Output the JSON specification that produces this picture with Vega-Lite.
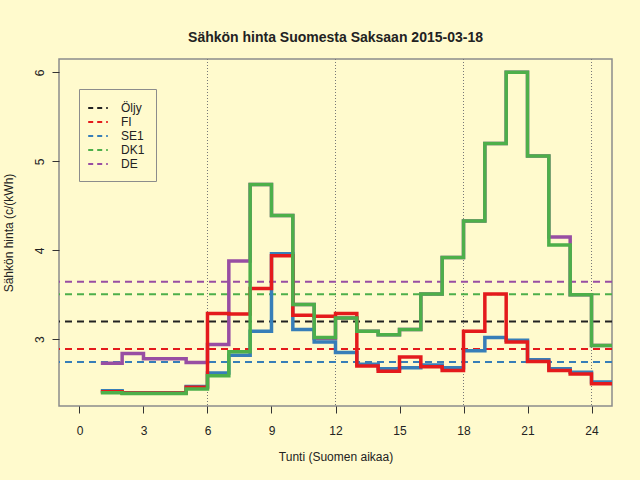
{
  "$schema": "https://vega.github.io/schema/vega-lite/v6.json",
  "width": 553,
  "height": 347,
  "autosize": {"type": "none"},
  "padding": {"left": 59, "top": 59, "right": 28, "bottom": 74},
  "background": "#FFFACD",
  "title": {"text": "Sähkön hinta Suomesta Saksaan 2015-03-18", "font": "Liberation Sans", "fontSize": 14, "fontWeight": "bold", "color": "#222222", "offset": 14},
  "config": {
    "font": "Liberation Sans",
    "view": {"stroke": "#8c8c8c", "strokeWidth": 1.5},
    "axis": {"domain": false, "grid": false, "ticks": true, "tickColor": "#333333", "tickSize": 7, "labelFontSize": 12, "labelColor": "#222222", "titleFontSize": 12, "titleFontWeight": "normal", "titleColor": "#222222", "labelFont": "Liberation Sans", "titleFont": "Liberation Sans"},
    "axisX": {"labelPadding": 12, "titlePadding": 15},
    "axisY": {"labelAngle": -90, "labelPadding": 6, "titlePadding": 18, "labelAlign": "center", "labelBaseline": "bottom"},
    "legend": {"orient": "none", "legendX": 20, "legendY": 30, "padding": 11, "strokeColor": "#8c8c8c", "fillColor": "#FFFACD", "symbolType": "M-1.4,0L1.4,0", "symbolDash": [5, 4], "symbolStrokeWidth": 1.8, "symbolSize": 196, "labelFontSize": 12, "labelOffset": 15, "rowPadding": 0, "labelColor": "#222222", "labelFont": "Liberation Sans"}
  },
  "datasets": {
    "grid": [{"h": 6}, {"h": 12}, {"h": 18}, {"h": 24}],
    "ref": [
      {"sarja": "Öljy", "hinta": 3.20},
      {"sarja": "FI", "hinta": 2.89},
      {"sarja": "SE1", "hinta": 2.745},
      {"sarja": "DK1", "hinta": 3.505},
      {"sarja": "DE", "hinta": 3.647}
    ],
    "hinta": [
      {"tunti": 1, "sarja": "DE", "hinta": 2.73}, {"tunti": 2, "sarja": "DE", "hinta": 2.84}, {"tunti": 3, "sarja": "DE", "hinta": 2.78}, {"tunti": 4, "sarja": "DE", "hinta": 2.78}, {"tunti": 5, "sarja": "DE", "hinta": 2.74}, {"tunti": 6, "sarja": "DE", "hinta": 2.94}, {"tunti": 7, "sarja": "DE", "hinta": 3.88}, {"tunti": 8, "sarja": "DE", "hinta": 4.74}, {"tunti": 9, "sarja": "DE", "hinta": 4.39}, {"tunti": 10, "sarja": "DE", "hinta": 3.39}, {"tunti": 11, "sarja": "DE", "hinta": 3.01}, {"tunti": 12, "sarja": "DE", "hinta": 3.24}, {"tunti": 13, "sarja": "DE", "hinta": 3.09}, {"tunti": 14, "sarja": "DE", "hinta": 3.05}, {"tunti": 15, "sarja": "DE", "hinta": 3.11}, {"tunti": 16, "sarja": "DE", "hinta": 3.51}, {"tunti": 17, "sarja": "DE", "hinta": 3.92}, {"tunti": 18, "sarja": "DE", "hinta": 4.33}, {"tunti": 19, "sarja": "DE", "hinta": 5.20}, {"tunti": 20, "sarja": "DE", "hinta": 6.00}, {"tunti": 21, "sarja": "DE", "hinta": 5.06}, {"tunti": 22, "sarja": "DE", "hinta": 4.15}, {"tunti": 23, "sarja": "DE", "hinta": 3.50}, {"tunti": 24, "sarja": "DE", "hinta": 2.93}, {"tunti": 25, "sarja": "DE", "hinta": 2.93},
      {"tunti": 1, "sarja": "SE1", "hinta": 2.42}, {"tunti": 2, "sarja": "SE1", "hinta": 2.40}, {"tunti": 3, "sarja": "SE1", "hinta": 2.40}, {"tunti": 4, "sarja": "SE1", "hinta": 2.40}, {"tunti": 5, "sarja": "SE1", "hinta": 2.47}, {"tunti": 6, "sarja": "SE1", "hinta": 2.62}, {"tunti": 7, "sarja": "SE1", "hinta": 2.82}, {"tunti": 8, "sarja": "SE1", "hinta": 3.09}, {"tunti": 9, "sarja": "SE1", "hinta": 3.96}, {"tunti": 10, "sarja": "SE1", "hinta": 3.11}, {"tunti": 11, "sarja": "SE1", "hinta": 2.97}, {"tunti": 12, "sarja": "SE1", "hinta": 2.85}, {"tunti": 13, "sarja": "SE1", "hinta": 2.72}, {"tunti": 14, "sarja": "SE1", "hinta": 2.67}, {"tunti": 15, "sarja": "SE1", "hinta": 2.68}, {"tunti": 16, "sarja": "SE1", "hinta": 2.71}, {"tunti": 17, "sarja": "SE1", "hinta": 2.68}, {"tunti": 18, "sarja": "SE1", "hinta": 2.87}, {"tunti": 19, "sarja": "SE1", "hinta": 3.02}, {"tunti": 20, "sarja": "SE1", "hinta": 2.99}, {"tunti": 21, "sarja": "SE1", "hinta": 2.77}, {"tunti": 22, "sarja": "SE1", "hinta": 2.67}, {"tunti": 23, "sarja": "SE1", "hinta": 2.63}, {"tunti": 24, "sarja": "SE1", "hinta": 2.52}, {"tunti": 25, "sarja": "SE1", "hinta": 2.52},
      {"tunti": 1, "sarja": "FI", "hinta": 2.41}, {"tunti": 2, "sarja": "FI", "hinta": 2.395}, {"tunti": 3, "sarja": "FI", "hinta": 2.395}, {"tunti": 4, "sarja": "FI", "hinta": 2.395}, {"tunti": 5, "sarja": "FI", "hinta": 2.46}, {"tunti": 6, "sarja": "FI", "hinta": 3.29}, {"tunti": 7, "sarja": "FI", "hinta": 3.285}, {"tunti": 8, "sarja": "FI", "hinta": 3.57}, {"tunti": 9, "sarja": "FI", "hinta": 3.94}, {"tunti": 10, "sarja": "FI", "hinta": 3.27}, {"tunti": 11, "sarja": "FI", "hinta": 3.26}, {"tunti": 12, "sarja": "FI", "hinta": 3.29}, {"tunti": 13, "sarja": "FI", "hinta": 2.70}, {"tunti": 14, "sarja": "FI", "hinta": 2.64}, {"tunti": 15, "sarja": "FI", "hinta": 2.80}, {"tunti": 16, "sarja": "FI", "hinta": 2.69}, {"tunti": 17, "sarja": "FI", "hinta": 2.65}, {"tunti": 18, "sarja": "FI", "hinta": 3.09}, {"tunti": 19, "sarja": "FI", "hinta": 3.51}, {"tunti": 20, "sarja": "FI", "hinta": 2.97}, {"tunti": 21, "sarja": "FI", "hinta": 2.75}, {"tunti": 22, "sarja": "FI", "hinta": 2.65}, {"tunti": 23, "sarja": "FI", "hinta": 2.61}, {"tunti": 24, "sarja": "FI", "hinta": 2.50}, {"tunti": 25, "sarja": "FI", "hinta": 2.50},
      {"tunti": 1, "sarja": "DK1", "hinta": 2.40}, {"tunti": 2, "sarja": "DK1", "hinta": 2.39}, {"tunti": 3, "sarja": "DK1", "hinta": 2.39}, {"tunti": 4, "sarja": "DK1", "hinta": 2.39}, {"tunti": 5, "sarja": "DK1", "hinta": 2.44}, {"tunti": 6, "sarja": "DK1", "hinta": 2.59}, {"tunti": 7, "sarja": "DK1", "hinta": 2.86}, {"tunti": 8, "sarja": "DK1", "hinta": 4.74}, {"tunti": 9, "sarja": "DK1", "hinta": 4.39}, {"tunti": 10, "sarja": "DK1", "hinta": 3.39}, {"tunti": 11, "sarja": "DK1", "hinta": 3.02}, {"tunti": 12, "sarja": "DK1", "hinta": 3.24}, {"tunti": 13, "sarja": "DK1", "hinta": 3.09}, {"tunti": 14, "sarja": "DK1", "hinta": 3.05}, {"tunti": 15, "sarja": "DK1", "hinta": 3.11}, {"tunti": 16, "sarja": "DK1", "hinta": 3.51}, {"tunti": 17, "sarja": "DK1", "hinta": 3.92}, {"tunti": 18, "sarja": "DK1", "hinta": 4.33}, {"tunti": 19, "sarja": "DK1", "hinta": 5.20}, {"tunti": 20, "sarja": "DK1", "hinta": 6.00}, {"tunti": 21, "sarja": "DK1", "hinta": 5.06}, {"tunti": 22, "sarja": "DK1", "hinta": 4.06}, {"tunti": 23, "sarja": "DK1", "hinta": 3.50}, {"tunti": 24, "sarja": "DK1", "hinta": 2.93}, {"tunti": 25, "sarja": "DK1", "hinta": 2.93}
    ]
  },
  "layer": [
    {
      "data": {"name": "grid"},
      "mark": {"type": "rule", "color": "#777777", "strokeWidth": 1, "strokeDash": [1, 2]},
      "encoding": {
        "x": {"field": "h", "type": "quantitative", "scale": {"domain": [-0.96, 24.96], "nice": false, "zero": false}, "axis": {"values": [0, 3, 6, 9, 12, 15, 18, 21, 24], "title": "Tunti (Suomen aikaa)"}}
      }
    },
    {
      "data": {"name": "ref"},
      "mark": {"type": "rule", "strokeWidth": 2, "strokeDash": [7, 5]},
      "encoding": {
        "y": {"field": "hinta", "type": "quantitative", "scale": {"domain": [2.25, 6.15], "nice": false, "zero": false}, "axis": {"values": [3, 4, 5, 6], "title": "Sähkön hinta (c/(kWh)"}},
        "color": {"field": "sarja", "type": "nominal", "scale": {"domain": ["Öljy", "FI", "SE1", "DK1", "DE"], "range": ["#222222", "#E41A1C", "#377EB8", "#4DAF4A", "#984EA3"]}, "legend": {"title": null}}
      }
    },
    {
      "data": {"name": "hinta"},
      "mark": {"type": "line", "interpolate": "step-after", "strokeWidth": 3.5, "clip": true},
      "encoding": {
        "x": {"field": "tunti", "type": "quantitative", "scale": {"domain": [-0.96, 24.96], "nice": false, "zero": false}, "axis": {"values": [0, 3, 6, 9, 12, 15, 18, 21, 24], "title": "Tunti (Suomen aikaa)"}},
        "y": {"field": "hinta", "type": "quantitative", "scale": {"domain": [2.25, 6.15], "nice": false, "zero": false}, "axis": {"values": [3, 4, 5, 6], "title": "Sähkön hinta (c/(kWh)"}},
        "color": {"field": "sarja", "type": "nominal", "scale": {"domain": ["Öljy", "FI", "SE1", "DK1", "DE"], "range": ["#222222", "#E41A1C", "#377EB8", "#4DAF4A", "#984EA3"]}, "legend": {"title": null}}
      }
    }
  ]
}
